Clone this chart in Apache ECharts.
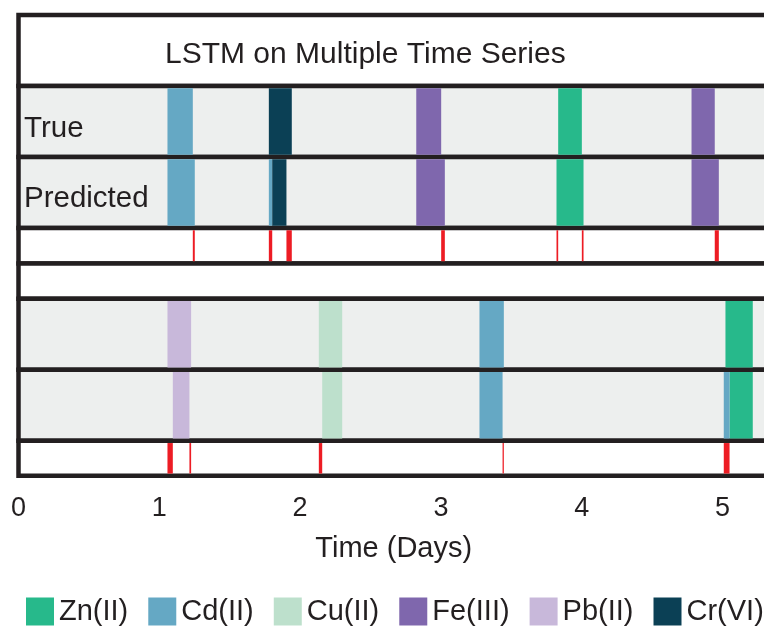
<!DOCTYPE html>
<html><head><meta charset="utf-8">
<script src="https://cdn.jsdelivr.net/npm/echarts@6/dist/echarts.min.js"></script>
<style>html,body{margin:0;padding:0;background:#fff}#c{width:764px;height:626px}</style>
</head><body><div id="c"></div>
<script>
// ---------- data ----------
const species = ['Zn(II)', 'Cd(II)', 'Cu(II)', 'Fe(III)', 'Pb(II)', 'Cr(VI)'];
const dayTicks = [0, 1, 2, 3, 4, 5];
const titleText = 'LSTM on Multiple Time Series';
const rowLabels = ['True', 'Predicted'];
const axisTitle = 'Time (Days)';

// block 1 (species, start day, end day)
const true1 = [['Cd(II)', 1.058, 1.238], ['Cr(VI)', 1.778, 1.941], ['Fe(III)', 2.825, 3.002], ['Zn(II)', 3.833, 4.001], ['Fe(III)', 4.780, 4.945]];
const pred1 = [['Cd(II)', 1.058, 1.252], ['Cd(II)', 1.778, 1.802], ['Cr(VI)', 1.802, 1.903], ['Fe(III)', 2.825, 3.028], ['Zn(II)', 3.821, 4.013], ['Fe(III)', 4.780, 4.974]];
const err1 = [[1.238, 1.252], [1.778, 1.802], [1.903, 1.941], [3.002, 3.028], [3.821, 3.833], [4.001, 4.013], [4.945, 4.974]];
// block 2
const true2 = [['Pb(II)', 1.058, 1.226], ['Cu(II)', 2.133, 2.299], ['Cd(II)', 3.274, 3.447], ['Zn(II)', 5.021, 5.215]];
const pred2 = [['Pb(II)', 1.096, 1.214], ['Cu(II)', 2.157, 2.299], ['Cd(II)', 3.274, 3.438], ['Cd(II)', 5.009, 5.050], ['Zn(II)', 5.050, 5.215]];
const err2 = [[1.058, 1.096], [1.214, 1.226], [2.133, 2.157], [3.438, 3.447], [5.009, 5.050]];

// ---------- style / layout ----------
const colors = {'Zn(II)': '#27b98b', 'Cd(II)': '#65a8c4', 'Cu(II)': '#bde0cc', 'Fe(III)': '#7f67ad', 'Pb(II)': '#c8b8da', 'Cr(VI)': '#0b4055'};
const errColor = '#ed1c24';
const ink = '#231f20';
const rowBg = '#edefee';
const font = "'Liberation Sans', Arial, Helvetica, sans-serif";
const xMin = 0, xMax = 5.33, pxPerDay = 140.8, gridLeft = 18.5, lineW = 4.5;

const rows = [
  {top: 15, h: 71, bg: '#ffffff'},
  {top: 86, h: 71, bg: rowBg, bars: true1},
  {top: 157, h: 71, bg: rowBg, bars: pred1},
  {top: 228, h: 35.5, bg: '#ffffff', err: err1},
  {top: 263.5, h: 35.3, bg: '#ffffff'},
  {top: 298.8, h: 71, bg: rowBg, bars: true2},
  {top: 369.8, h: 71, bg: rowBg, bars: pred2},
  {top: 440.8, h: 35, bg: '#ffffff', err: err2}
];

function renderBar(params, api) {
  const a = api.coord([api.value(0), 0]);
  const b = api.coord([api.value(1), 0]);
  const cs = params.coordSys;
  return {
    type: 'rect',
    shape: {x: a[0], y: cs.y + lineW / 2, width: b[0] - a[0], height: cs.height - lineW},
    style: {fill: api.visual('color')}
  };
}

const grid = [], xAxis = [], yAxis = [], series = [];
rows.forEach((r, i) => {
  grid.push({
    left: gridLeft, top: r.top, width: (xMax - xMin) * pxPerDay, height: r.h,
    show: true, backgroundColor: r.bg, borderColor: ink, borderWidth: lineW,
    containLabel: false, outerBoundsMode: 'none'
  });
  const last = i === rows.length - 1;
  xAxis.push({
    type: 'value', gridIndex: i, min: xMin, max: xMax, interval: 1,
    show: last,
    axisLine: {show: false}, axisTick: {show: false}, splitLine: {show: false},
    axisLabel: {
      show: last, margin: 19, fontSize: 27, color: ink, fontFamily: font,
      showMaxLabel: false,
      formatter: v => (dayTicks.indexOf(v) >= 0 ? String(v) : '')
    },
    name: last ? axisTitle : '', nameLocation: 'middle', nameGap: 59,
    nameTextStyle: {fontSize: 29, color: ink, fontFamily: font}
  });
  yAxis.push({type: 'value', gridIndex: i, min: 0, max: 1, show: false});
  if (r.bars) {
    species.forEach(s => {
      const d = r.bars.filter(b => b[0] === s).map(b => [b[1], b[2]]);
      if (!d.length) return;
      series.push({
        type: 'custom', name: s, xAxisIndex: i, yAxisIndex: i,
        data: d, encode: {x: [0, 1]}, renderItem: renderBar,
        itemStyle: {color: colors[s]}, silent: true, clip: false
      });
    });
  }
  if (r.err) {
    series.push({
      type: 'custom', name: 'mismatch', xAxisIndex: i, yAxisIndex: i,
      data: r.err, encode: {x: [0, 1]}, renderItem: renderBar,
      itemStyle: {color: errColor}, silent: true, clip: false
    });
  }
});

const chart = echarts.init(document.getElementById('c'), null, {renderer: 'canvas'});
chart.setOption({
  animation: false,
  backgroundColor: '#ffffff',
  title: [
    {text: titleText, left: 165, top: 40, padding: 0, textStyle: {fontSize: 30, fontWeight: 'normal', color: ink, fontFamily: font}},
    {text: rowLabels[0], left: 24, top: 113.5, padding: 0, textStyle: {fontSize: 29.5, fontWeight: 'normal', color: ink, fontFamily: font}},
    {text: rowLabels[1], left: 24, top: 184, padding: 0, textStyle: {fontSize: 29.5, fontWeight: 'normal', color: ink, fontFamily: font}}
  ],
  legend: {
    data: species.map(s => ({name: s, itemStyle: {color: colors[s]}})),
    left: 26, top: 597, padding: 0, itemGap: 20, itemWidth: 28, itemHeight: 28,
    icon: 'rect', selectedMode: false,
    textStyle: {fontSize: 29, color: ink, fontFamily: font}
  },
  grid, xAxis, yAxis, series
});
</script></body></html>
